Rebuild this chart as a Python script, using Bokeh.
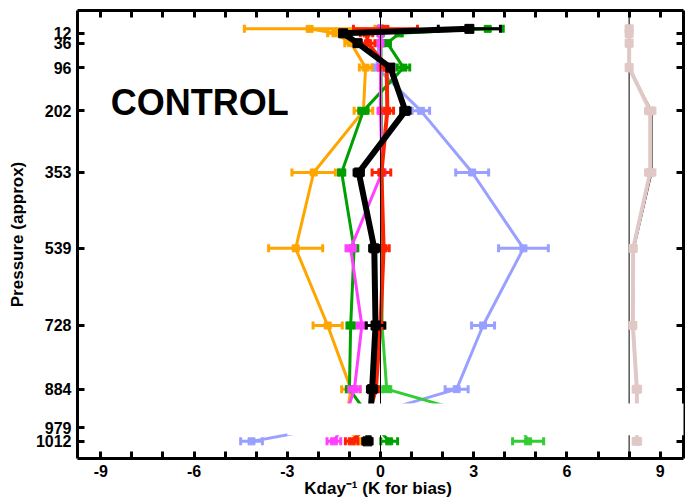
import math

from bokeh.embed import file_html
from bokeh.models import (AllLabels, BoxAnnotation, FixedTicker, Label,
                          LinearAxis, Range1d)
from bokeh.plotting import figure
from bokeh.resources import INLINE

# Model levels (hPa); the first one is the model top, which carries no tick.
levels = [1, 12, 36, 96, 202, 353, 539, 728, 884, 979, 1012]
pressure_ticks = [12, 36, 96, 202, 353, 539, 728, 884, 979, 1012]
x_ticks = list(range(-9, 10))
x_tick_labels = {-9: "-9", -6: "-6", -3: "-3", 0: "0", 3: "3", 6: "6", 9: "9"}

# Heating-rate terms (K/day) and their uncertainties at each level
orange_vals = [-2.28, -1.45, -0.95, -0.48, -0.55, -2.15, -2.73, -1.70, -0.95, -1.15, -0.62]
orange_err = [2.10, 0.25, 0.20, 0.20, 0.30, 0.70, 0.87, 0.47, 0.30, 0.30, 0.20]

blue_vals = [0.0, 0.0, -0.05, -0.12, 1.30, 2.95, 4.60, 3.30, 2.45, -1.80, -4.15]
blue_err = [0.05, 0.05, 0.05, 0.12, 0.28, 0.53, 0.80, 0.37, 0.37, 0.30, 0.35]

lightgreen_vals = [0.0, 0.02, 0.02, 0.02, 0.03, 0.05, 0.05, 0.05, 0.20, 4.55, 4.75]
lightgreen_err = [0.03, 0.03, 0.03, 0.03, 0.03, 0.05, 0.05, 0.05, 0.13, 0.40, 0.50]

green_vals = [3.45, 0.60, 0.22, 0.74, -0.55, -1.25, -0.85, -0.96, -1.00, -0.10, 0.28]
green_err = [0.50, 0.10, 0.10, 0.20, 0.15, 0.10, 0.12, 0.12, 0.10, 0.15, 0.27]

magenta_vals = [0.0, 0.0, 0.0, 0.0, 0.0, 0.05, -0.96, -0.60, -0.84, -1.25, -1.50]
magenta_err = [0.05, 0.05, 0.05, 0.05, 0.05, 0.10, 0.15, 0.15, 0.18, 0.20, 0.22]

red_vals = [0.16, -0.45, -0.40, 0.20, 0.22, 0.03, 0.10, 0.0, -0.15, -0.50, -0.93]
red_err = [1.03, 0.20, 0.22, 0.20, 0.20, 0.30, 0.18, 0.10, 0.10, 0.15, 0.20]

black_vals = [2.86, -1.20, -0.74, 0.32, 0.80, -0.70, -0.20, -0.16, -0.27, -0.35, -0.42]
black_err = [1.00, 0.10, 0.10, 0.10, 0.15, 0.15, 0.15, 0.30, 0.15, 0.15, 0.15]

# Bias profile, shown offset by +8 K next to its reference line
bias_vals = [8.0, 8.0, 8.0, 8.0, 8.68, 8.68, 8.13, 8.12, 8.25, 8.25, 8.25]
bias_err = [0.08, 0.08, 0.08, 0.08, 0.15, 0.15, 0.08, 0.08, 0.12, 0.12, 0.12]
bias_trace = [8.0, 8.0, 8.0, 8.0, 8.74, 8.74, 8.17, 8.14, 8.27, 8.27, 8.27]
bias_zero = 8.0

FONT = "Liberation Sans"

p = figure(
    width=687, height=501,
    x_range=Range1d(-9.75, 9.75), y_range=Range1d(1054, -44),
    output_backend="svg", toolbar_location=None,
    min_border_left=77, min_border_right=4, min_border_top=10, min_border_bottom=43,
)
p.outline_line_color = None
p.xgrid.visible = False
p.ygrid.visible = False
p.background_fill_color = "white"
p.border_fill_color = "white"


def style_axis(ax, show_labels):
    ax.axis_line_width = 3
    ax.axis_line_color = "black"
    ax.major_tick_line_width = 3
    ax.major_tick_line_color = "black"
    ax.major_tick_in = 7
    ax.major_tick_out = 0
    ax.minor_tick_line_color = None
    ax.major_label_text_font = FONT
    ax.major_label_text_font_style = "bold"
    ax.major_label_text_color = "black"
    ax.major_label_policy = AllLabels()
    if not show_labels:
        ax.major_label_text_font_size = "0px"
        ax.major_label_text_color = None


xb = p.xaxis[0]
style_axis(xb, True)
xb.ticker = FixedTicker(ticks=x_ticks)
xb.major_label_overrides = {float(t): x_tick_labels.get(t, "") for t in x_ticks}
xb.major_label_text_font_size = "16px"
xb.major_label_standoff = 6
xb.axis_label = "Kday\u207b\u00b9  (K for bias)"
xb.axis_label_text_font = FONT
xb.axis_label_text_font_style = "bold"
xb.axis_label_text_font_size = "17px"
xb.axis_label_text_color = "black"
xb.axis_label_standoff = -1

yl = p.yaxis[0]
style_axis(yl, True)
yl.ticker = FixedTicker(ticks=pressure_ticks)
yl.major_label_text_font_size = "16px"
yl.major_label_standoff = 6
yl.axis_label = "Pressure (approx)"
yl.axis_label_text_font = FONT
yl.axis_label_text_font_style = "bold"
yl.axis_label_text_font_size = "17px"
yl.axis_label_text_color = "black"
yl.axis_label_standoff = 6

xt = LinearAxis(ticker=FixedTicker(ticks=x_ticks))
style_axis(xt, False)
p.add_layout(xt, "above")

yr = LinearAxis(ticker=FixedTicker(ticks=pressure_ticks))
style_axis(yr, False)
p.add_layout(yr, "right")


def profile(xs, errs, color, lw, marker_size=7):
    lo = [x - e for x, e in zip(xs, errs)]
    hi = [x + e for x, e in zip(xs, errs)]
    p.line(xs, levels, line_color=color, line_width=lw, line_join="round")
    p.segment(lo, levels, hi, levels, line_color=color, line_width=3)
    p.scatter(lo + hi, levels + levels, marker="dash", angle=math.pi / 2,
              size=8, line_color=color, line_width=3)
    p.scatter(xs, levels, marker="square", size=marker_size,
              fill_color=color, line_color=color)


# reference line for the offset bias profile
p.segment([bias_zero], [-44], [bias_zero], [1054], line_color="black", line_width=1)
p.line(bias_trace, levels, line_color="black", line_width=1)
profile(bias_vals, bias_err, "#E0C8C6", 4, marker_size=8)

profile(blue_vals, blue_err, "#99A0FF", 3)
profile(lightgreen_vals, lightgreen_err, "#33CC33", 3)
profile(orange_vals, orange_err, "#FFA500", 3)
profile(green_vals, green_err, "#00A000", 3)
profile(magenta_vals, magenta_err, "#FF40FF", 3)
profile(red_vals, red_err, "#FF2200", 4)

# zero line
p.segment([0], [-44], [0], [1054], line_color="black", line_width=1)

profile(black_vals, black_err, "black", 6, marker_size=9)

p.add_layout(Label(x=-8.68, y=181, text="CONTROL", text_font=FONT,
                   text_font_style="bold", text_font_size="36px",
                   text_color="black", text_baseline="alphabetic"))

# blanked strip over the lowest layers
p.add_layout(BoxAnnotation(left=-3.0, right=10.8, top=919, bottom=997,
                           fill_color="white", fill_alpha=1.0,
                           line_color=None, level="overlay"))

open("out.html", "w").write(file_html(p, INLINE))
